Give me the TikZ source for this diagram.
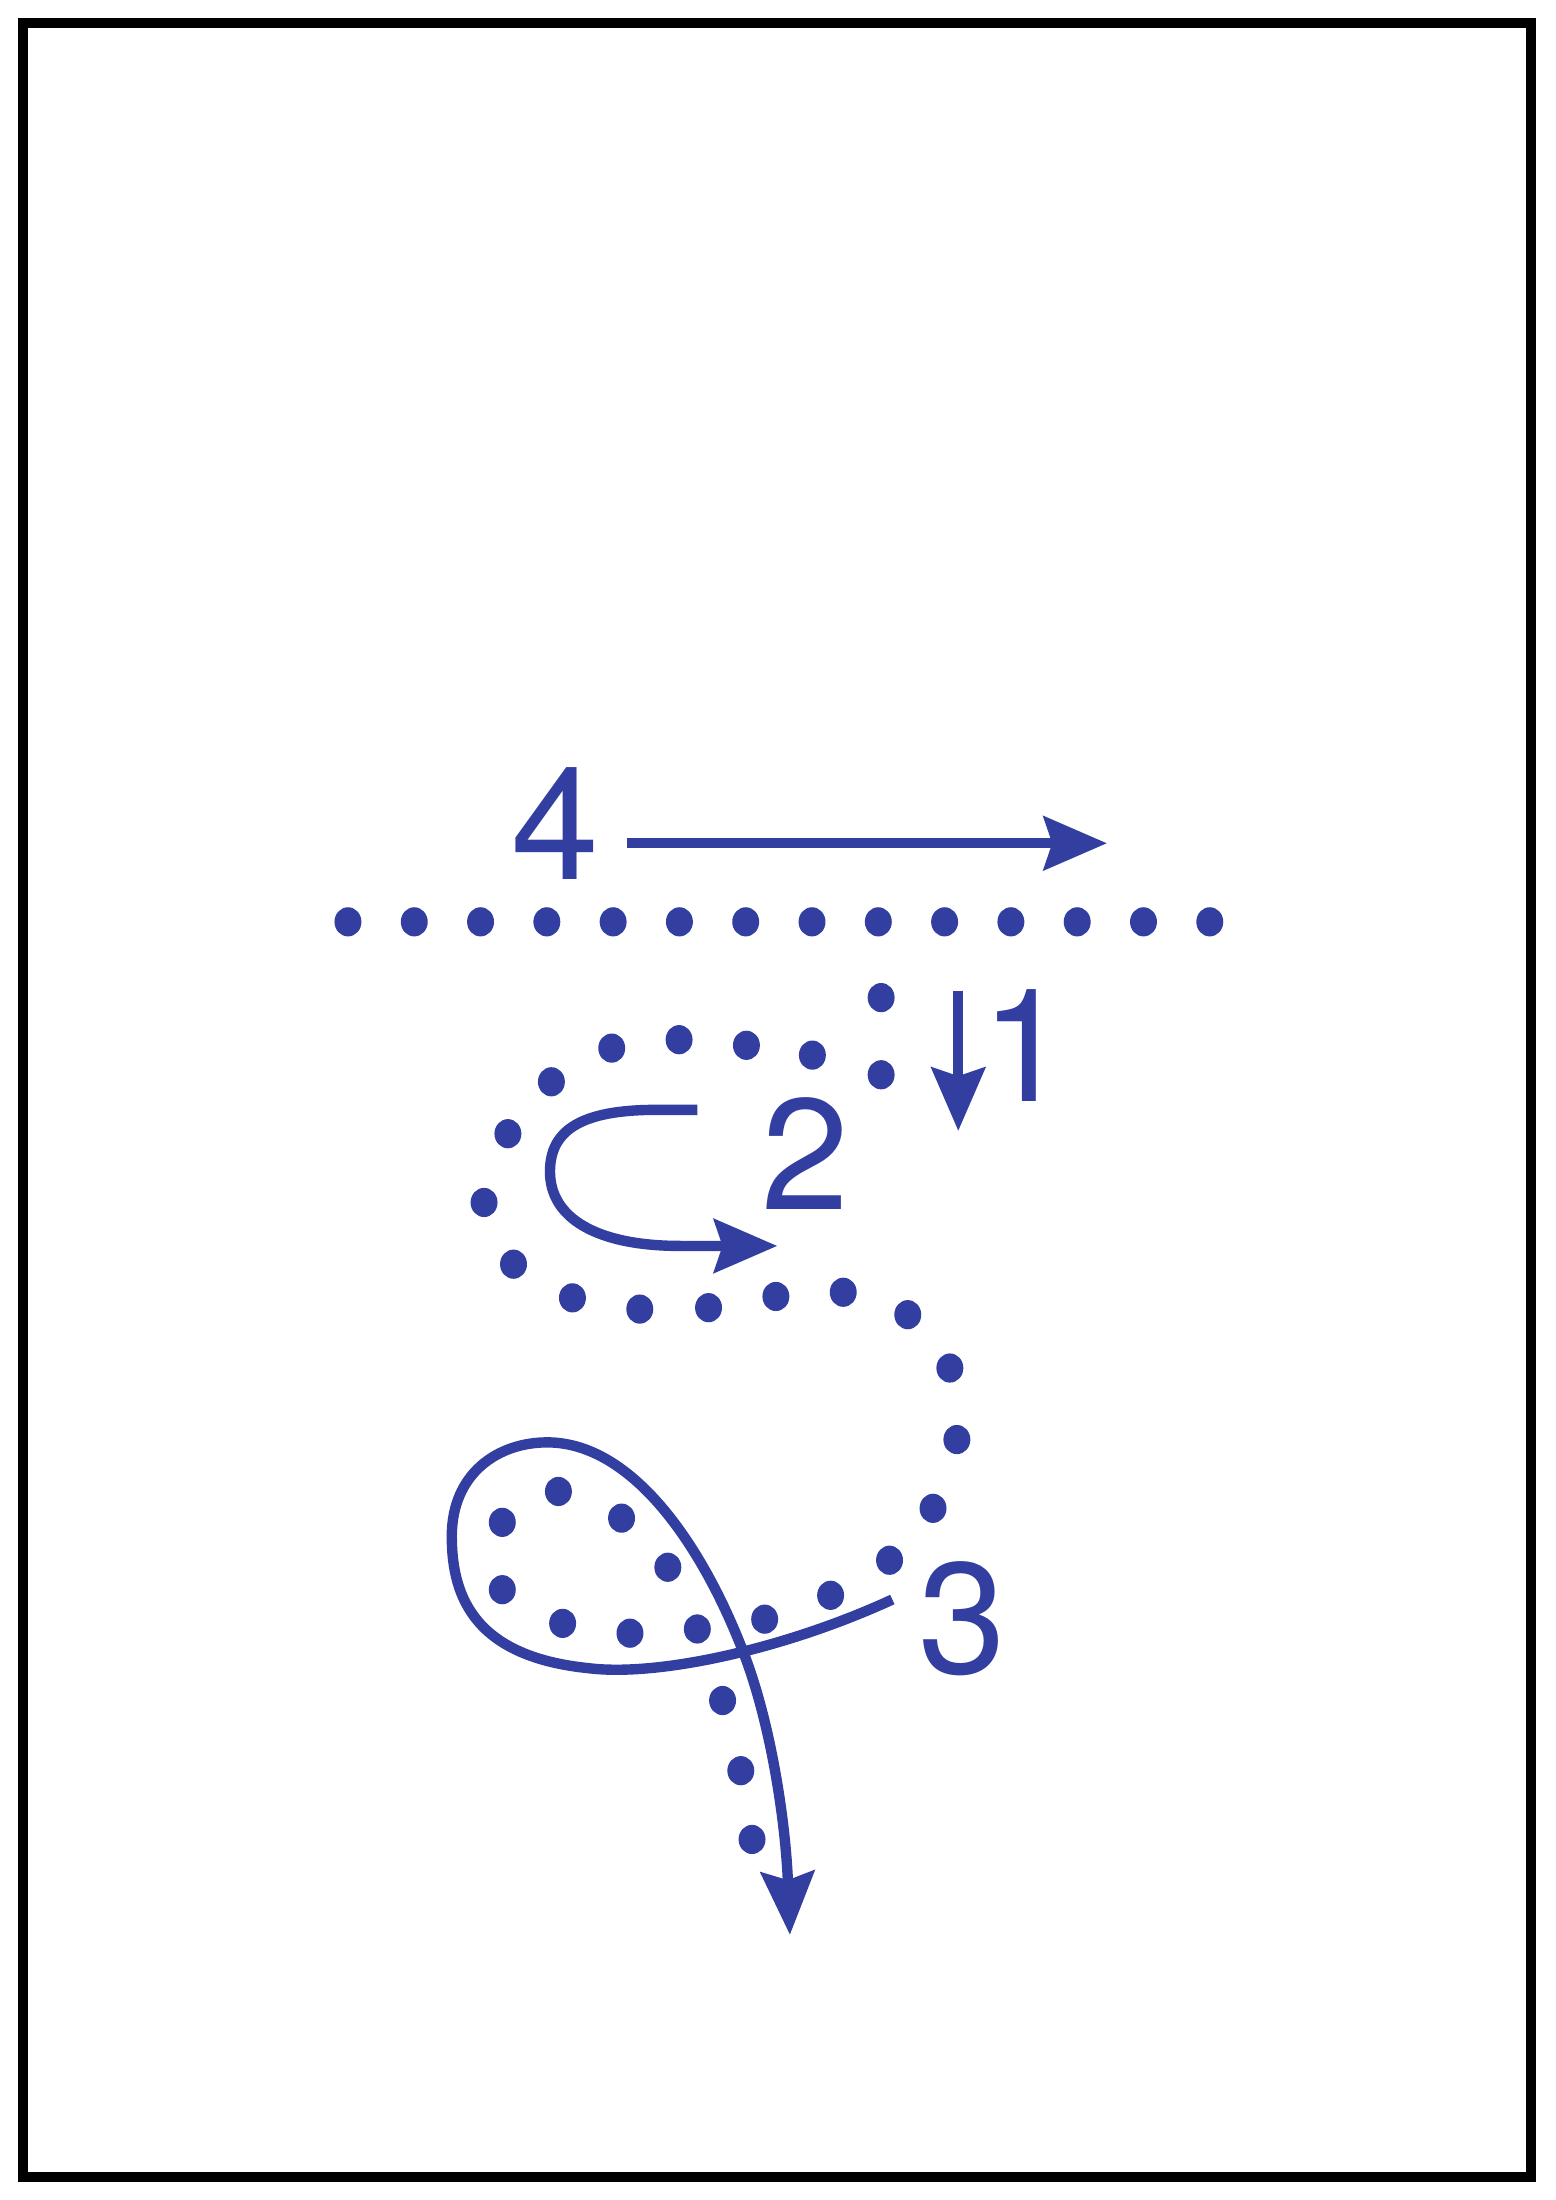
\documentclass[tikz,border=0pt]{standalone}
\usepackage{fontspec}
\setmainfont{TeX Gyre Heros}
\usetikzlibrary{arrows.meta}
\definecolor{ink}{RGB}{50,62,160}

\begin{document}
\begin{tikzpicture}[x=0.01cm, y=-0.01cm,
  >={Stealth[length=0.45cm, width=0.38cm, inset=0.06cm]},
  move/.style={draw=ink, line width=0.074cm, ->},
  num/.style={text=ink, inner sep=0pt, font=\fontsize{32}{32}\selectfont},
  spot/.style={fill=ink},
]
  \useasboundingbox (0,0) rectangle (1109,1568);
  \draw[line width=0.071cm] (16.4,16.4) rectangle (1091.2,1551.3);

  % linha de pontos (posicao inicial)
  \foreach \pn in {0,...,13} {
    \fill[spot] (248+47.25*\pn,657) ellipse [x radius=0.096cm, y radius=0.104cm];
  }
  \foreach \px/\py in {628/711, 628/766, 579/752, 532/745, 484/741, 436/747, 393/771,
    362/808, 345/857, 366/901, 408/925, 456/933, 505/932, 553/924, 601/921, 647/937,
    677/975, 682/1026, 665/1075, 634/1112, 592/1137, 545/1154, 497/1161, 449/1164,
    401/1157, 358/1133, 358/1085, 398/1063, 443/1082, 476/1117, 515/1212, 528/1262,
    536/1311} {
    \fill[spot] (\px,\py) ellipse [x radius=0.096cm, y radius=0.104cm];
  }

  \node[num] (n4) at (396,587) {4};
  \node[num] (n1) at (731,745) {1};
  \node[num] (n2) at (574,822) {2};
  \node[num] (n3) at (686,1154) {3};

  \coordinate (s4) at (447,601);
  \coordinate (e4) at (789,601);
  \coordinate (s1) at (683,706);
  \coordinate (e1) at (683,806);
  \coordinate (s2) at (497,791);
  \coordinate (e2) at (554,888);
  \coordinate (s3) at (636,1140);
  \coordinate (e3) at (563,1379);

  \draw[move] (s4) -- (e4);
  \draw[move] (s1) -- (e1);
  \draw[move] (s2) -- (468,791) .. controls (415,791) and (392,805) .. (392,835)
    .. controls (392,868) and (425,888) .. (485,888) -- (e2);
  \draw[move] (s3) .. controls (560,1175) and (470,1195) .. (420,1189)
    .. controls (340,1181) and (322,1140) .. (322,1095)
    .. controls (322,1050) and (355,1028) .. (390,1028)
    .. controls (450,1028) and (500,1100) .. (530,1178)
    .. controls (550,1230) and (560,1300) .. (e3);
\end{tikzpicture}
\end{document}
